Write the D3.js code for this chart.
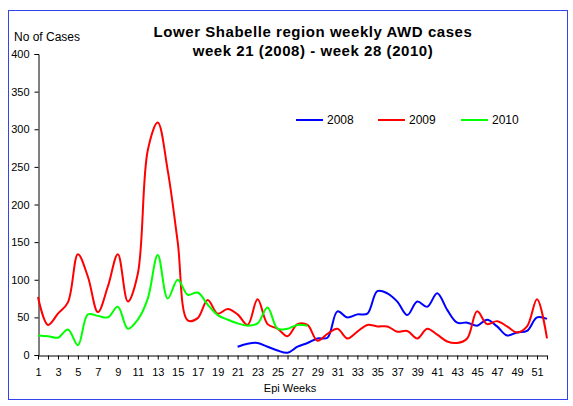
<!DOCTYPE html>
<html><head><meta charset="utf-8">
<script src="https://cdn.jsdelivr.net/npm/d3@7"></script>
<style>body{margin:0;background:#fff}svg{display:block;font-family:"Liberation Sans",Arial,sans-serif}</style>
</head><body><svg id="c" width="573" height="406"></svg>
<script>
const weeks = d3.range(1, 53);
const xTickLabels = d3.range(1, 52, 2);
const yTicks = [0, 50, 100, 150, 200, 250, 300, 350, 400];
const seriesNames = ["2008", "2009", "2010"];
const seriesColors = ["#0000ff", "#ff0000", "#00ff00"];
// 2008 starts at week 21
const s2008 = [null,null,null,null,null,null,null,null,null,null,null,null,null,null,null,null,null,null,null,null,
  11,15,16,11,6,3,11,16,22,23,58,50,54,55,85,82,71,53,71,64,82,60,43,43,39,47,38,26,30,32,50,48];
const s2009 = [77,40,55,70,134,104,57,91,134,71,108,272,309,245,150,46,49,73,55,61,
  54,40,74,41,35,25,41,40,19,28,35,22,31,40,38,38,31,32,22,35,27,18,16,22,58,41,45,38,30,38,74,22];
// 2010 ends at week 28
const s2010 = [26,25,23,34,13,54,52,50,64,35,47,75,133,75,100,80,83,67,53,47,
  42,39,42,63,35,35,40,39];
const seriesValues = [s2008, s2009, s2010];

const svg = d3.select("#c");
svg.append("rect").attr("x",8.5).attr("y",10.5).attr("width",559).attr("height",389)
  .attr("fill","#fff").attr("stroke","#3344ee").attr("stroke-width",1);

const x = d3.scaleLinear().domain([1, 52]).range([38, 547]);
const y = d3.scaleLinear().domain([0, 400]).range([355, 54]);

// title
svg.append("text").attr("x",313).attr("y",37).attr("text-anchor","middle")
  .attr("font-size",15).attr("letter-spacing",0.55).attr("font-weight","bold").text("Lower Shabelle region weekly AWD cases");
svg.append("text").attr("x",313).attr("y",56).attr("text-anchor","middle")
  .attr("font-size",15).attr("letter-spacing",0.55).attr("font-weight","bold").text("week 21 (2008) - week 28 (2010)");
svg.append("text").attr("x",14).attr("y",41).attr("font-size",12).text("No of Cases");
svg.append("text").attr("x",290).attr("y",392).attr("text-anchor","middle")
  .attr("font-size",11).text("Epi Weeks");

// y axis
const yAxis = d3.axisLeft(y).tickValues(yTicks).tickSize(4).tickPadding(5);
const gy = svg.append("g").attr("transform","translate(38.5,0)").call(yAxis);
gy.select(".domain").attr("stroke","#000");
gy.selectAll("text").attr("font-size",11).attr("fill","#000").attr("font-family","Liberation Sans, Arial");

// x axis
const xAxis = d3.axisBottom(x).tickValues(weeks).tickSize(4).tickSizeOuter(0)
  .tickFormat(d => xTickLabels.includes(d) ? d : "");
const gx = svg.append("g").attr("transform","translate(0,355.5)").call(xAxis);
gx.selectAll("text").attr("font-size",11).attr("fill","#000").attr("dy","1.2em").attr("font-family","Liberation Sans, Arial");

// lines
const line = d3.line().defined(d => d[1] != null)
  .x(d => x(d[0])).y(d => y(d[1])).curve(d3.curveCatmullRom.alpha(0.5));
seriesValues.forEach((vals, i) => {
  const pts = vals.map((v, j) => [weeks[j], v]);
  svg.append("path").datum(pts).attr("d", line).attr("fill","none")
    .attr("stroke", seriesColors[i]).attr("stroke-width", 2);
});

// legend
const legX = [296, 378, 461];
seriesNames.forEach((n, i) => {
  svg.append("line").attr("x1",legX[i]).attr("x2",legX[i]+27).attr("y1",120).attr("y2",120)
    .attr("stroke",seriesColors[i]).attr("stroke-width",2);
  svg.append("text").attr("x",legX[i]+31).attr("y",124).attr("font-size",12).text(n);
});
</script></body></html>
